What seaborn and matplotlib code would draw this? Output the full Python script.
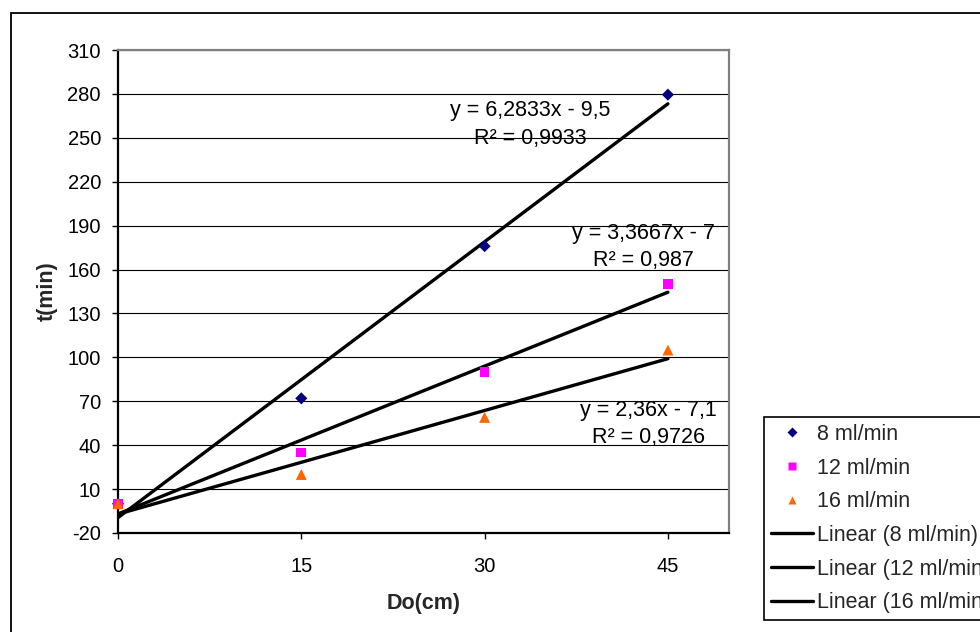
import numpy as np
import pandas as pd
import matplotlib
matplotlib.use("Agg")
import matplotlib.pyplot as plt
from matplotlib.lines import Line2D
from matplotlib.patches import Rectangle
import seaborn as sns

# Measured filling times t (min) against height Do (cm) for three flow rates
do_cm = [0, 15, 30, 45]
t_8 = [0, 72, 176, 279.5]
t_12 = [0, 35, 90, 150]
t_16 = [0, 20, 59, 105]

series_names = ["8 ml/min", "12 ml/min", "16 ml/min"]

# Linear trend lines: (slope, intercept, R²)
fit_8 = (6.2833, -9.5, 0.9933)
fit_12 = (3.3667, -7, 0.987)
fit_16 = (2.36, -7.1, 0.9726)

y_ticks = [-20, 10, 40, 70, 100, 130, 160, 190, 220, 250, 280, 310]
x_ticks = [0, 15, 30, 45]

sns.set_style("white")
plt.rcParams["font.family"] = ["Liberation Sans", "DejaVu Sans"]

df = pd.DataFrame({
    "Do": do_cm * 3,
    "t": t_8 + t_12 + t_16,
    "series": [s for s in series_names for _ in do_cm],
})

W, H = 980, 632
TXT = 15.5
fig = plt.figure(figsize=(W / 100, H / 100), dpi=100)
ax = fig.add_axes([118 / W, 1 - 533 / H, (729 - 118) / W, (533 - 50) / H])

colors = {"8 ml/min": "#000080", "12 ml/min": "#FF00FF", "16 ml/min": "#FF6600"}
markers = {"8 ml/min": "D", "12 ml/min": "s", "16 ml/min": "^"}
sizes = {"8 ml/min": 38, "12 ml/min": 48, "16 ml/min": 62}
fits = {"8 ml/min": fit_8, "12 ml/min": fit_12, "16 ml/min": fit_16}

# Trend lines over the measured range
x_line = np.array([min(do_cm), max(do_cm)], dtype=float)
for name in series_names:
    slope, icpt, _ = fits[name]
    sns.lineplot(x=x_line, y=slope * x_line + icpt, color="black", lw=2.4,
                 ax=ax, zorder=3)

# Measured points
for name in series_names:
    sub = df[df["series"] == name]
    sns.scatterplot(data=sub, x="Do", y="t", color=colors[name],
                    marker=markers[name], s=sizes[name], edgecolor="none",
                    ax=ax, zorder=4, clip_on=False, legend=False)


def fmt(v):
    return f"{v:g}".replace(".", ",")


def eq_text(fit):
    slope, icpt, r2 = fit
    sign = "-" if icpt < 0 else "+"
    return f"y = {fmt(slope)}x {sign} {fmt(abs(icpt))}\nR² = {fmt(r2)}"


label_pos = {"8 ml/min": (33.7, 259), "12 ml/min": (43.0, 175.5),
             "16 ml/min": (43.4, 54.5)}
for name in series_names:
    x, y = label_pos[name]
    ax.text(x, y, eq_text(fits[name]), ha="center", va="center",
            multialignment="center", fontsize=TXT, linespacing=1.4,
            color="black", zorder=2)

ax.set_xlim(0, 50)
ax.set_ylim(-20, 310)
ax.set_xticks(x_ticks)
ax.set_yticks(y_ticks)
ax.set_xticklabels([str(v) for v in x_ticks])
ax.set_yticklabels([str(v) for v in y_ticks])

ax.set_axisbelow(True)
ax.yaxis.grid(True, color="black", lw=0.8)
ax.xaxis.grid(False)

for side in ("left", "bottom"):
    ax.spines[side].set_color("black")
    ax.spines[side].set_linewidth(1.6)
for side in ("top", "right"):
    ax.spines[side].set_color("#808080")
    ax.spines[side].set_linewidth(1.6)
    ax.spines[side].set_visible(True)

ax.tick_params(axis="both", direction="out", length=4.3, width=1,
               color="black", labelsize=14.5, labelcolor="black")
ax.tick_params(axis="x", pad=13, bottom=True)
ax.tick_params(axis="y", pad=8, left=True)

ax.set_xlabel("Do(cm)", fontsize=TXT, fontweight="bold")
ax.set_ylabel("t(min)", fontsize=TXT, fontweight="bold")
ax.xaxis.label.set_va("center")
ax.yaxis.label.set_va("center")
ax.xaxis.set_label_coords(0.5, (533 - 603) / 483)
ax.yaxis.set_label_coords((47 - 118) / 611, 0.5)

# Legend: marker entries then trend-line entries
handles = []
for name in series_names:
    handles.append(Line2D([], [], linestyle="none", marker=markers[name],
                          color=colors[name], markeredgecolor="none",
                          markersize=6 if markers[name] != "D" else 4.8))
for name in series_names:
    handles.append(Line2D([], [], color="black", lw=2.4))
labels = series_names + [f"Linear ({n})" for n in series_names]

leg = fig.legend(handles, labels, loc="upper left",
                 bbox_to_anchor=(764 / W, 1 - 417 / H),
                 bbox_transform=fig.transFigure, frameon=True, fancybox=False,
                 edgecolor="black", framealpha=1, borderaxespad=0,
                 fontsize=TXT, handlelength=1.95, handletextpad=0.2,
                 labelspacing=0.59, borderpad=0.32)
leg.get_frame().set_linewidth(1.2)

# Chart border
fig.patches.append(Rectangle((10.5 / W, -0.5), 2, (1 - 12.5 / H) + 0.5,
                             transform=fig.transFigure, fill=False,
                             edgecolor="black", lw=1.3))

fig.savefig("out.png", dpi=100)
